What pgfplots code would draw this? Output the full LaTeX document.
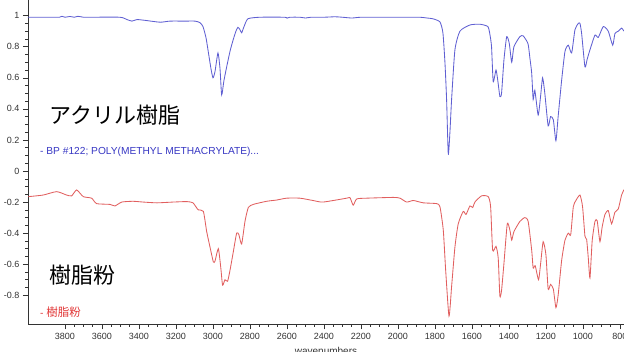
\documentclass[border=0pt]{standalone}
\usepackage{pgfplots}
\pgfplotsset{compat=1.18}
\usepackage{fontspec}
\setmainfont{Liberation Sans}
\newfontfamily\jp{Noto Sans CJK JP}
\definecolor{blueline}{RGB}{95,95,210}
\definecolor{redline}{RGB}{225,95,95}
\definecolor{bluetext}{RGB}{55,55,195}
\definecolor{redtext}{RGB}{225,55,55}
\begin{document}
\begin{tikzpicture}
\begin{axis}[
  at={(0,0)}, anchor=south west,
  scale only axis, width=596pt, height=324.3pt,
  x dir=reverse, xmin=778, xmax=4000,
  ymin=-0.987, ymax=1.101,
  axis x line*=bottom, axis y line*=left,
  axis line style={-, black!80},
  tick align=outside,
  major tick length=5pt, minor tick length=2.5pt,
  tick style={black!80, line width=0.5pt},
  xtick={800,1000,...,3800},
  xticklabels={800,1000,1200,1400,1600,1800,2000,2200,2400,2600,2800,3000,3200,3400,3600,3800},
  ytick={-0.8,-0.6,-0.4,-0.2,0,0.2,0.4,0.6,0.8,1},
  yticklabels={-0.8,-0.6,-0.4,-0.2,0,0.2,0.4,0.6,0.8,1},
  minor x tick num=3, minor y tick num=3,
  ticklabel style={font=\fontsize{9}{10}\selectfont, text=black!80},
  xlabel={wavenumbers},
  xlabel style={font=\fontsize{10}{11}\selectfont, text=black!80, at={(axis description cs:0.5,0)}, anchor=north, yshift=-19pt},
  clip=true,
]
\addplot[blueline, line width=0.85pt, smooth, tension=0.35] coordinates {
(4000,0.99) (3908,0.99) (3830,0.99) (3816,0.996) (3800,0.99) (3773,0.995) (3750,0.99) (3730,0.996) (3700,0.99) (3665,0.99) (3503,0.99)
(3465,0.975) (3438,0.965) (3411,0.975) (3368,0.97) (3286,0.958) (3232,0.965) (3151,0.965) (3097,0.965) (3070,0.955)
(3054,0.93) (3038,0.86) (3027,0.78) (3011,0.66) (3000,0.60) (2989,0.64) (2973,0.76) (2962,0.66) (2953,0.49) (2941,0.58)
(2926,0.67) (2908,0.77) (2892,0.84) (2876,0.90) (2865,0.925) (2854,0.91) (2845,0.89) (2832,0.93) (2811,0.98) (2746,0.99)
(2611,0.99) (2600,0.984) (2584,0.99) (2530,0.99) (2500,0.985) (2470,0.99) (2400,0.99) (2340,0.993) (2300,0.99) (2250,0.985) (2200,0.99) (2100,0.99) (2050,0.99) (1950,0.99) (1881,0.99)
(1843,0.985) (1811,0.98) (1773,0.96) (1757,0.89) (1746,0.70) (1737,0.46) (1728,0.11) (1719,0.25) (1710,0.46) (1692,0.78)
(1665,0.90) (1611,0.94) (1557,0.945) (1514,0.93) (1503,0.88) (1494,0.80) (1485,0.575) (1470,0.65) (1460,0.58) (1449,0.48)
(1440,0.50) (1427,0.715) (1412,0.865) (1398,0.82) (1385,0.70) (1373,0.80) (1341,0.865) (1323,0.87) (1297,0.82) (1287,0.73)
(1277,0.63) (1269,0.46) (1260,0.52) (1242,0.36) (1229,0.48) (1218,0.60) (1206,0.50) (1188,0.29) (1175,0.35) (1160,0.33)
(1146,0.195) (1134,0.35) (1115,0.585) (1097,0.77) (1079,0.81) (1061,0.76) (1043,0.91) (1025,0.95) (1016,0.95) (1007,0.885)
(989,0.67) (977,0.72) (962,0.78) (935,0.875) (917,0.86) (890,0.93) (863,0.90) (839,0.81) (827,0.885) (809,0.90) (791,0.92) (778,0.90)
};
\addplot[redline, line width=0.85pt, smooth, tension=0.35] coordinates {
(3998,-0.165) (3919,-0.155) (3845,-0.133) (3791,-0.155) (3764,-0.16) (3737,-0.122) (3701,-0.165) (3656,-0.175) (3629,-0.21)
(3557,-0.215) (3530,-0.225) (3493,-0.20) (3432,-0.195) (3377,-0.20) (3303,-0.205) (3216,-0.20) (3142,-0.197) (3108,-0.205)
(3080,-0.25) (3052,-0.26) (3034,-0.39) (3016,-0.49) (2998,-0.585) (2989,-0.58) (2971,-0.50) (2958,-0.62) (2948,-0.735)
(2935,-0.70) (2921,-0.71) (2908,-0.64) (2890,-0.52) (2872,-0.40) (2860,-0.41) (2845,-0.47) (2827,-0.325) (2809,-0.235)
(2782,-0.215) (2710,-0.195) (2656,-0.187) (2602,-0.175) (2530,-0.175) (2459,-0.19) (2405,-0.20) (2277,-0.175) (2259,-0.172)
(2242,-0.22) (2223,-0.18) (2169,-0.175) (2025,-0.17) (1989,-0.175) (1953,-0.20) (1917,-0.19) (1863,-0.205) (1791,-0.21)
(1773,-0.23) (1755,-0.38) (1742,-0.64) (1724,-0.935) (1710,-0.745) (1692,-0.49) (1674,-0.34) (1647,-0.26) (1632,-0.28)
(1611,-0.225) (1596,-0.235) (1584,-0.20) (1548,-0.16) (1512,-0.165) (1499,-0.23) (1488,-0.51) (1470,-0.485) (1458,-0.56)
(1449,-0.805) (1440,-0.77) (1427,-0.595) (1409,-0.34) (1395,-0.38) (1385,-0.445) (1373,-0.39) (1341,-0.325) (1314,-0.30)
(1296,-0.325) (1277,-0.51) (1269,-0.625) (1258,-0.61) (1240,-0.70) (1229,-0.60) (1215,-0.455) (1200,-0.54) (1188,-0.76)
(1175,-0.73) (1160,-0.76) (1146,-0.88) (1134,-0.80) (1115,-0.575) (1097,-0.445) (1079,-0.40) (1066,-0.41) (1052,-0.23)
(1038,-0.19) (1016,-0.155) (1002,-0.23) (989,-0.42) (980,-0.44) (971,-0.56) (962,-0.69) (950,-0.45) (935,-0.325) (923,-0.32)
(908,-0.455) (896,-0.36) (881,-0.28) (863,-0.255) (845,-0.34) (827,-0.265) (809,-0.245) (791,-0.155) (778,-0.12)
};
\node[anchor=west, inner sep=0pt, font=\jp\fontsize{22}{24}\selectfont] at (axis cs:3886,0.36) {アクリル樹脂};
\node[anchor=west, inner sep=0pt, text=bluetext, font=\fontsize{10.2}{11}\selectfont] at (axis cs:3935,0.122) {- BP \#122; POLY(METHYL METHACRYLATE)...};
\node[anchor=west, inner sep=0pt, font=\jp\fontsize{22}{24}\selectfont] at (axis cs:3886,-0.67) {樹脂粉};
\node[anchor=west, inner sep=0pt, text=redtext, font=\fontsize{10.2}{11}\selectfont] at (axis cs:3935,-0.908) {- {\jp\fontsize{11.5}{12}\selectfont 樹脂粉}};
\end{axis}
\pgfresetboundingbox
\path[use as bounding box] (-28pt,-27.7pt) rectangle (596pt,324.3pt);
\end{tikzpicture}
\end{document}
